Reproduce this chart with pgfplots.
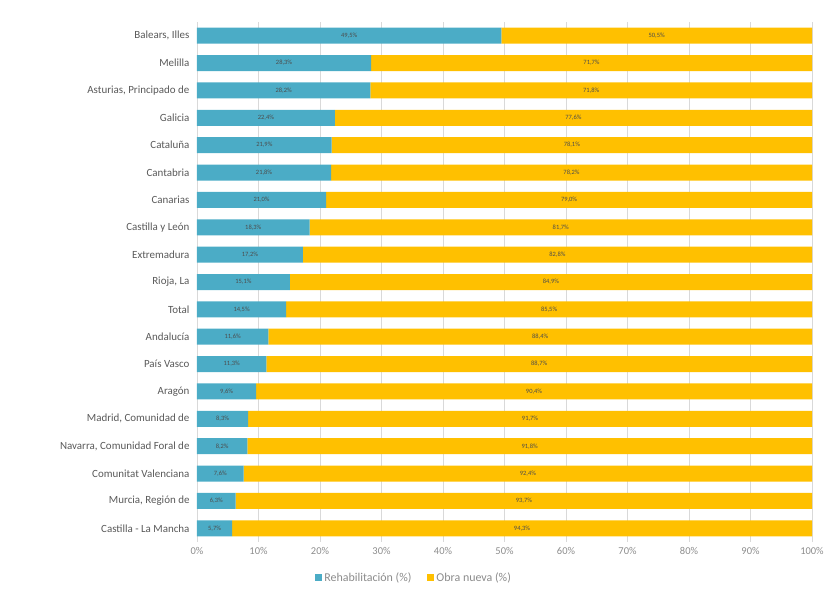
\documentclass[border=0pt]{standalone}
\usepackage{pgfplots}
\pgfplotsset{compat=1.18}
\usepackage{pgfplotstable}
\usepackage{fontspec}
\setmainfont{Carlito}
\definecolor{reh}{HTML}{4BACC6}
\definecolor{obra}{HTML}{FFC000}
\definecolor{txt}{HTML}{595959}
\definecolor{txtl}{HTML}{8C8C8C}
\definecolor{grd}{HTML}{D9D9D9}

% rehabilitacion / obra nueva (%), top to bottom
\pgfplotstableread{
idx reh obra
0 49.5 50.5
1 28.3 71.7
2 28.2 71.8
3 22.4 77.6
4 21.9 78.1
5 21.8 78.2
6 21.0 79.0
7 18.3 81.7
8 17.2 82.8
9 15.1 84.9
10 14.5 85.5
11 11.6 88.4
12 11.3 88.7
13 9.6 90.4
14 8.3 91.7
15 8.2 91.8
16 7.6 92.4
17 6.3 93.7
18 5.7 94.3
}\datos

\begin{document}
\begin{tikzpicture}
\useasboundingbox (-197bp,-49bp) rectangle (631bp,542bp);
\begin{axis}[
  scale only axis, width=615bp, height=520bp,
  xbar stacked, bar width=16bp,
  xmin=0, xmax=100, ymin=-0.5, ymax=18.5, y dir=reverse,
  ytick={0,...,18},
  yticklabels={{Balears, Illes},Melilla,{Asturias, Principado de},Galicia,Cataluña,Cantabria,Canarias,Castilla y León,Extremadura,{Rioja, La},Total,Andalucía,País Vasco,Aragón,{Madrid, Comunidad de},{Navarra, Comunidad Foral de},Comunitat Valenciana,{Murcia, Región de},Castilla - La Mancha},
  yticklabel style={xshift=-4bp, font=\fontsize{11}{13}\selectfont, text=txt},
  xtick={0,10,...,100},
  xticklabel={\pgfmathprintnumber{\tick}\%},
  xticklabel style={font=\fontsize{10.5}{12}\selectfont, text=txtl, yshift=-2bp},
  xmajorgrids, grid style={grd},
  axis line style={draw=none},
  major tick length=0,
  /pgf/number format/assume math mode=true,
  visualization depends on={rawx \as \seg},
  nodes near coords={\pgfmathprintnumber[fixed,fixed zerofill,precision=1,use comma]{\seg}\%},
  nodes near coords align={center},
  every node near coord/.append style={font=\fontsize{6.5}{8}\selectfont, text=black!70},
  legend style={at={(0.353,-0.069)}, anchor=center, legend columns=2, draw=none,
    font=\fontsize{12}{14}\selectfont, text=txtl,
    /tikz/every even column/.append style={column sep=14bp}},
  legend image code/.code={\fill[#1] (0bp,-3.5bp) rectangle (7bp,3.5bp);},
]
\addplot[fill=reh, draw=none] table[x=reh, y=idx] {\datos};
\addplot[fill=obra, draw=none] table[x=obra, y=idx] {\datos};
\legend{Rehabilitación (\%), Obra nueva (\%)}
\end{axis}
\end{tikzpicture}
\end{document}
